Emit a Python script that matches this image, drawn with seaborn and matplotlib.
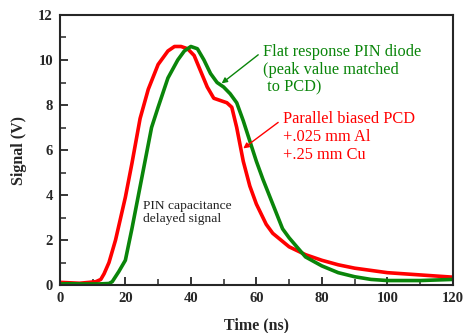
import matplotlib
matplotlib.use("Agg")
import matplotlib.pyplot as plt
import seaborn as sns
import pandas as pd
from matplotlib.ticker import MultipleLocator

# Parallel biased PCD (red)
pcd_t = [0, 3, 6, 9, 11, 12.5, 13.5, 15, 17, 20, 22, 24.5, 27, 30, 33, 35, 37, 39, 41,
         43, 45, 47, 49, 51, 52.5, 54, 56, 58, 60, 63, 65, 70, 75, 80, 85, 90, 95, 100, 110, 120]
pcd_v = [0.12, 0.1, 0.08, 0.12, 0.15, 0.25, 0.5, 1.0, 2.0, 3.9, 5.4, 7.4, 8.7, 9.8, 10.4, 10.6, 10.6, 10.5, 10.2,
         9.5, 8.8, 8.3, 8.2, 8.1, 7.9, 7.0, 5.5, 4.4, 3.6, 2.7, 2.3, 1.7, 1.35, 1.1, 0.9, 0.75, 0.65, 0.55, 0.45, 0.35]

# Flat response PIN diode (green)
pin_t = [0, 3, 6, 9, 12, 15, 16, 18, 20, 22, 24, 26, 28, 30, 33, 36, 38, 40, 42, 44, 46,
         48, 50, 52, 54, 56, 58, 60, 62, 65, 68, 70, 75, 80, 85, 90, 95, 100, 110, 120]
pin_v = [0.05, 0.06, 0.05, 0.05, 0.05, 0.07, 0.15, 0.6, 1.1, 2.5, 4.0, 5.5, 7.0, 7.9, 9.2, 10.0, 10.4, 10.6, 10.5, 10.0, 9.4,
         9.0, 8.8, 8.5, 8.1, 7.3, 6.4, 5.5, 4.7, 3.6, 2.5, 2.1, 1.25, 0.85, 0.55, 0.37, 0.25, 0.2, 0.2, 0.25]

red = "#ff0000"
green = "#0a850a"

sns.set_style("ticks")
plt.rcParams['font.family'] = ['Liberation Serif', 'DejaVu Serif']

fig = plt.figure(figsize=(4.64, 3.33), dpi=100)
ax = fig.add_axes([0.129, 0.144, 0.847, 0.811])

df_pcd = pd.DataFrame({"t": pcd_t, "v": pcd_v})
df_pin = pd.DataFrame({"t": pin_t, "v": pin_v})
sns.lineplot(data=df_pcd, x="t", y="v", ax=ax, color=red, lw=2.6)
sns.lineplot(data=df_pin, x="t", y="v", ax=ax, color=green, lw=2.6)

ax.set_xlim(0, 120)
ax.set_ylim(0, 12)
ax.xaxis.set_major_locator(MultipleLocator(20))
ax.xaxis.set_minor_locator(MultipleLocator(10))
ax.yaxis.set_major_locator(MultipleLocator(2))
ax.yaxis.set_minor_locator(MultipleLocator(1))
ax.tick_params(which="major", direction="in", length=6, width=1.3, labelsize=10.5, pad=5)
ax.tick_params(which="minor", direction="in", length=4, width=1.1)
for lab in ax.get_xticklabels() + ax.get_yticklabels():
    lab.set_fontweight("bold")
for s in ax.spines.values():
    s.set_linewidth(1.5)
    s.set_visible(True)

ax.set_xlabel("Time (ns)", fontsize=11.5, fontweight="bold", labelpad=9)
ax.set_ylabel("Signal (V)", fontsize=11.5, fontweight="bold", labelpad=8)

ax.annotate("Flat response PIN diode\n(peak value matched\n to PCD)",
            xy=(49.4, 8.96), xytext=(61.9, 10.73), color=green, fontsize=11.8,
            va="top", ha="left", linespacing=1.17,
            arrowprops=dict(arrowstyle="-|>", color=green, lw=1.0, mutation_scale=8,
                            shrinkA=1, shrinkB=0, relpos=(0, 0.85)))
ax.annotate("Parallel biased PCD\n+.025 mm Al\n+.25 mm Cu",
            xy=(56.0, 6.07), xytext=(68.0, 7.72), color=red, fontsize=11.8,
            va="top", ha="left", linespacing=1.17,
            arrowprops=dict(arrowstyle="-|>", color=red, lw=1.0, mutation_scale=8,
                            shrinkA=1, shrinkB=0, relpos=(0, 0.85)))
ax.text(25.5, 3.8, "PIN capacitance\ndelayed signal", fontsize=9.7, color="#202020",
        va="top", ha="left", linespacing=1.12)

fig.savefig("out.png", dpi=100)
